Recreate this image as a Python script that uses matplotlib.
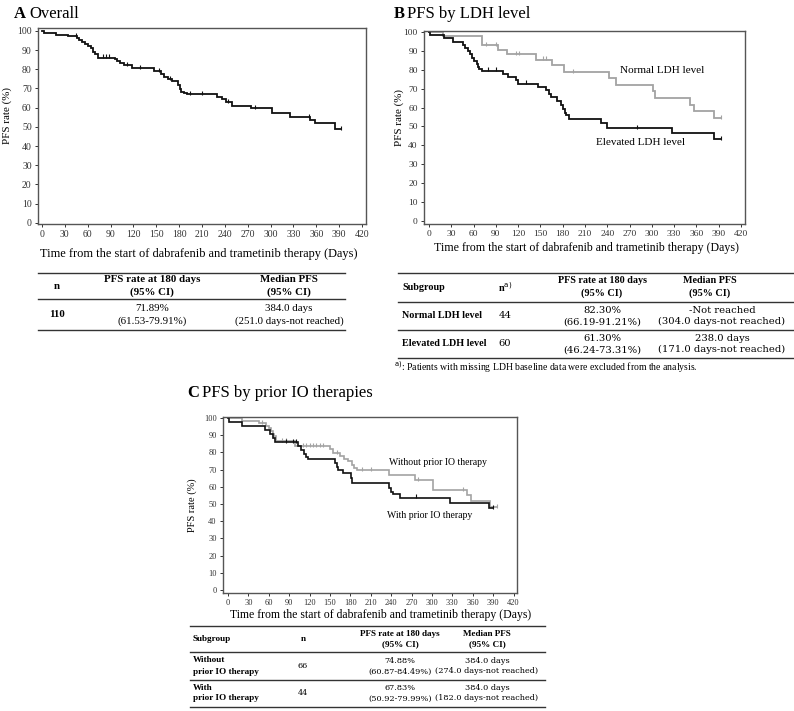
import numpy as np
import matplotlib
matplotlib.use("Agg")
import matplotlib.pyplot as plt

plt.rcParams['font.family'] = ['Liberation Serif', 'DejaVu Serif']

W, H = 794, 711

# ---------------- data ----------------
x_ticks = list(range(0, 421, 30))
y_ticks = list(range(0, 101, 10))
x_label = "Time from the start of dabrafenib and trametinib therapy (Days)"
y_label = "PFS rate (%)"

# Panel A: overall (event times, survival after event)
A_t = [0, 3, 19, 34, 46, 49, 53, 57, 61, 64, 67, 70, 73, 96, 99, 103, 108, 118, 147, 156,
       160, 165, 170, 179, 181, 183, 186, 190, 230, 236, 241, 250, 274, 302, 326, 352, 358, 384]
A_s = [100, 99.1, 98.0, 97.1, 96.2, 95.2, 94.2, 93.2, 92.2, 91.2, 89.2, 88.1, 86.1, 85.1, 84.1,
       83.1, 82.0, 80.7, 78.9, 77.6, 76.2, 74.9, 73.8, 71.89, 69.6, 68.4, 67.5, 66.9, 65.6, 64.3,
       62.7, 61.0, 60.0, 57.3, 55.3, 53.8, 52.2, 49.0]
A_end = 393
A_cens = [45, 80, 84, 88, 112, 128, 154, 168, 194, 210, 244, 280, 350, 393]

# Panel B: normal LDH
N_t = [0, 19, 71, 93, 105, 144, 165, 182, 243, 252, 301, 304, 352, 357, 384]
N_s = [100, 97.7, 93.0, 90.7, 88.1, 85.4, 82.3, 79.0, 75.6, 72.1, 68.6, 65.1, 61.6, 58.0, 54.6]
N_end = 393
N_cens = [77, 90, 117, 121, 153, 158, 194, 393]
# Panel B: elevated LDH
E_t = [0, 1, 20, 33, 46, 49, 52, 55, 58, 61, 64, 66, 68, 71, 99, 107, 117, 120, 147, 157,
       161, 164, 172, 178, 181, 183, 185, 188, 232, 240, 327, 384]
E_s = [100, 98.3, 96.6, 94.9, 93.2, 91.5, 89.8, 88.1, 86.4, 84.7, 83.0, 81.3, 80.4, 79.6, 77.9,
       76.1, 74.4, 72.7, 70.9, 69.1, 67.4, 65.6, 63.4, 61.3, 59.2, 57.0, 55.9, 53.8, 51.6, 49.3,
       46.3, 43.3]
E_end = 393
E_cens = [80, 90, 130, 280, 393]

# Panel C: without prior IO therapy
W_t = [0, 20, 46, 56, 60, 63, 66, 68, 71, 99, 150, 155, 165, 171, 177, 183, 186, 190, 237, 275,
       302, 352, 358, 385]
W_s = [100, 98.5, 97.0, 95.5, 94.0, 92.4, 90.9, 89.4, 86.4, 83.6, 81.9, 79.4, 77.7, 76.3, 74.88,
       72.5, 71.0, 69.6, 66.6, 63.7, 58.0, 55.0, 51.6, 48.3]
W_end = 395
W_cens = [50, 80, 85, 110, 115, 120, 125, 130, 135, 140, 160, 197, 210, 280, 345, 395]
# Panel C: with prior IO therapy
P_t = [0, 1, 21, 55, 62, 66, 69, 103, 108, 111, 114, 118, 157, 160, 162, 169, 181, 183, 237,
       240, 243, 253, 326, 384]
P_s = [100, 97.7, 95.3, 93.0, 90.7, 88.4, 86.1, 83.8, 81.5, 79.2, 77.6, 75.9, 73.6, 71.6, 69.6,
       67.83, 65.0, 62.0, 59.6, 57.2, 56.0, 53.8, 50.7, 47.7]
P_end = 390
P_cens = [85, 95, 100, 277, 390]

# Tables
A_cols = ["n", "PFS rate at 180 days\n(95% CI)", "Median PFS\n(95% CI)"]
A_rows = [["110", "71.89%\n(61.53-79.91%)", "384.0 days\n(251.0 days-not reached)"]]

B_cols = ["Subgroup", "n$^{\\mathrm{a)}}$", "PFS rate at 180 days\n(95% CI)", "Median PFS\n(95% CI)"]
B_rows = [["Normal LDH level", "44", "82.30%\n(66.19-91.21%)", "-Not reached\n(304.0 days-not reached)"],
          ["Elevated LDH level", "60", "61.30%\n(46.24-73.31%)", "238.0 days\n(171.0 days-not reached)"]]
B_note = "$^{\\mathrm{a)}}$: Patients with missing LDH baseline data were excluded from the analysis."

C_cols = ["Subgroup", "n", "PFS rate at 180 days\n(95% CI)", "Median PFS\n(95% CI)"]
C_rows = [["Without\nprior IO therapy", "66", "74.88%\n(60.87-84.49%)", "384.0 days\n(274.0 days-not reached)"],
          ["With\nprior IO therapy", "44", "67.83%\n(50.92-79.99%)", "384.0 days\n(182.0 days-not reached)"]]

# ---------------- helpers ----------------
fig = plt.figure(figsize=(W / 100, H / 100), dpi=100)


def fx(x):
    return x / W


def fy(y):
    return 1 - y / H


def T(x, y, s, **kw):
    kw.setdefault('va', 'center')
    kw.setdefault('ha', 'left')
    return fig.text(fx(x), fy(y), s, **kw)


def hline(x0, x1, y, lw=1.0):
    fig.add_artist(plt.Line2D([fx(x0), fx(x1)], [fy(y), fy(y)], color='#333333', lw=lw,
                              transform=fig.transFigure))


def make_axes(l, t, r, b, x0, x1, y0, y1, tick_fs):
    ax = fig.add_axes([fx(l), fy(b), fx(r - l), (b - t) / H])
    ax.set_xlim(x0, x1)
    ax.set_ylim(y0, y1)
    ax.set_xticks(x_ticks)
    ax.set_yticks(y_ticks)
    ax.tick_params(direction='out', length=2.5, width=0.7, colors='#333333',
                   labelsize=tick_fs, pad=2)
    for sp in ax.spines.values():
        sp.set_color('#555555')
        sp.set_linewidth(1.0)
    return ax


def km(ax, t, s, end, cens, color, lw):
    tt = list(t) + [end]
    ss = list(s) + [s[-1]]
    ax.step(tt, ss, where='post', color=color, lw=lw, solid_joinstyle='miter')
    ct = np.array(cens, dtype=float)
    idx = np.searchsorted(np.array(t), ct, side='right') - 1
    cs = np.array(s)[idx]
    ax.plot(ct, cs + 0.6, ls='none', marker='|', ms=3.5, mew=0.8, color=color)


BLACK = '#111111'
GRAY = '#a3a3a3'
WIDE = ['DejaVu Serif']

# ---------------- Panel A ----------------
T(14, 14, "A", fontsize=12, fontweight='bold')
T(29, 14, "Overall", fontsize=12)
axA = make_axes(38, 28, 366, 224, -5.25, 425.25, -0.6, 101.5, 7)
km(axA, A_t, A_s, A_end, A_cens, BLACK, 1.3)
T(7, 115, y_label, fontsize=7.9, rotation=90, ha='center')
T(199, 254, x_label, fontsize=8.9, ha='center')

# Table A
hline(38, 345, 273)
hline(38, 345, 299)
hline(38, 345, 330)
A_x = [57, 152, 289]
for i, c in enumerate(A_cols):
    T(A_x[i], 286, c, fontsize=7.8, fontweight='bold', ha='center', linespacing=1.35)
for i, c in enumerate(A_rows[0]):
    T(A_x[i], 315, c, fontsize=7.8, fontweight='bold' if i == 0 else 'normal', ha='center',
      linespacing=1.35)

# ---------------- Panel B ----------------
T(394, 14, "B", fontsize=12, fontweight='bold')
T(407, 14, "PFS by LDH level", fontsize=12)
axB = make_axes(424, 31, 745, 224, -6.7, 425.4, -1.6, 100.5, 6.8)
km(axB, N_t, N_s, N_end, N_cens, GRAY, 1.3)
km(axB, E_t, E_s, E_end, E_cens, BLACK, 1.3)
axB.text(314, 79.5, "Normal LDH level", fontsize=8, ha='center', va='center')
axB.text(285, 41.5, "Elevated LDH level", fontsize=8, ha='center', va='center')
T(399, 117, y_label, fontsize=7.9, rotation=90, ha='center')
T(587, 248, x_label, fontsize=8.6, ha='center')

# Table B
hline(398, 793, 273)
hline(398, 793, 302)
hline(398, 793, 330)
hline(398, 793, 358)
B_hx = [402, 505, 602, 710]
B_vx = [402, 505, 602, 722]
for i, c in enumerate(B_cols):
    T(B_hx[i], 287, c, fontsize=7.3, fontweight='bold', ha='left' if i == 0 else 'center',
      linespacing=1.35)
for r, row in enumerate(B_rows):
    yy = 316 + r * 28
    for i, c in enumerate(row):
        if i == 0:
            T(B_vx[i], yy, c, fontsize=7.3, fontweight='bold', ha='left')
        else:
            T(B_vx[i], yy, c, fontsize=7.2, ha='center', linespacing=1.35, family=WIDE)
T(394, 367, B_note, fontsize=7.0)

# ---------------- Panel C ----------------
T(187, 393, "C", fontsize=12, fontweight='bold')
T(202, 393, "PFS by prior IO therapies", fontsize=12)
axC = make_axes(223, 417, 517, 593, -7.4, 425.0, -1.7, 100.6, 6)
km(axC, W_t, W_s, W_end, W_cens, GRAY, 1.2)
km(axC, P_t, P_s, P_end, P_cens, BLACK, 1.2)
axC.text(309, 74.4, "Without prior IO therapy", fontsize=7, ha='center', va='center')
axC.text(297, 43.6, "With prior IO therapy", fontsize=7, ha='center', va='center')
T(192, 505, y_label, fontsize=7.5, rotation=90, ha='center')
T(381, 615, x_label, fontsize=8.5, ha='center')

# Table C
hline(190, 545, 626)
hline(190, 545, 652)
hline(190, 545, 680)
hline(190, 545, 707)
C_x = [193, 303, 400, 487]
for i, c in enumerate(C_cols):
    T(C_x[i], 639, c, fontsize=6.6, fontweight='bold', ha='left' if i == 0 else 'center',
      linespacing=1.35)
for r, row in enumerate(C_rows):
    yy = 666 + r * 27
    for i, c in enumerate(row):
        if i == 0:
            T(C_x[i], yy, c, fontsize=6.6, fontweight='bold', ha='left', linespacing=1.5)
        else:
            T(C_x[i], yy, c, fontsize=5.9, ha='center', linespacing=1.45, family=WIDE)

fig.savefig("out.png", dpi=100)
